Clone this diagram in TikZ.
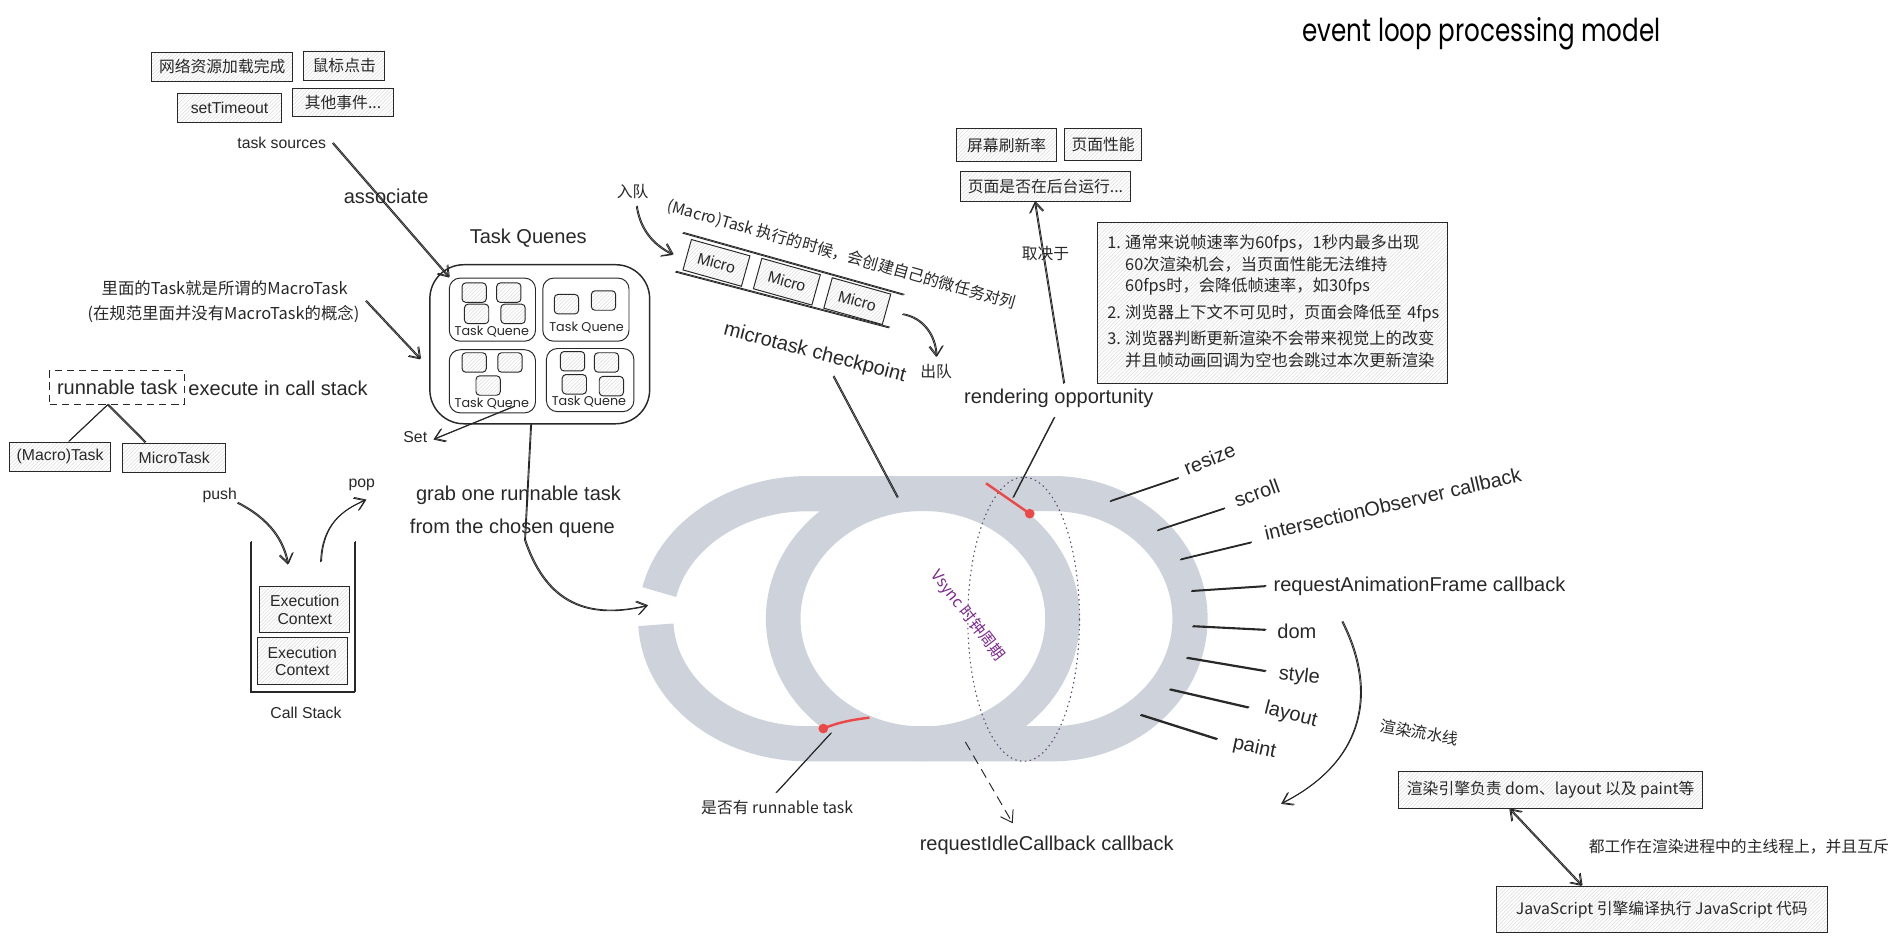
\documentclass[tikz,border=0pt]{standalone}
\usepackage{fontspec}
\usepackage{graphicx}
\setmainfont{Liberation Sans}
\newfontfamily\cjk{Noto Sans CJK SC}
\newfontfamily\hand{Poppins}
\usetikzlibrary{arrows.meta,patterns,calc}
\definecolor{ringc}{RGB}{206,211,219}
\definecolor{ink}{RGB}{40,40,40}
\definecolor{redm}{RGB}{235,72,72}
\definecolor{vs}{RGB}{125,40,145}
\definecolor{dotc}{RGB}{95,75,115}
\begin{document}
\begin{tikzpicture}[x=1pt,y=-1pt,
  every node/.style={inner sep=0pt, text=ink},
  rough/.style={postaction={draw, transform canvas={shift={(0.8pt,0.6pt)}}}},
  ln/.style={draw=ink, line width=0.75pt, rough},
  tick/.style={draw=ink, line width=1.1pt, rough},
  arr/.style={ln, -{Straight Barb[length=8pt,width=11pt]}},
  hbox/.style={draw=ink, line width=0.8pt, preaction={fill=white}, pattern=north east lines, pattern color=black!14},
  big/.style={font=\fontsize{16.5}{19}\selectfont},
  sm/.style={font=\fontsize{13}{15}\selectfont},
  cj/.style={font=\cjk\fontsize{13}{15}\selectfont},
  sq/.style={hbox, rounded corners=3pt, minimum width=20pt, minimum height=16pt},
  tq/.style={draw=ink, line width=0.8pt, rounded corners=9pt, minimum width=71pt, minimum height=52pt, fill=white},
  tql/.style={font=\hand\fontsize{10.5}{12}\selectfont}
]
\useasboundingbox (0,0) rectangle (1568,775);
\fill[white] (0,0) rectangle (1568,775);

% ---------- ring ----------
\draw[ringc, line width=29pt] (542.9,487.6) arc[start angle=192.3, end angle=270, x radius=125, y radius=103]
  -- (867,406.5) arc[start angle=-90, end angle=90, x radius=113, y radius=103]
  -- (665,612.5) arc[start angle=90, end angle=177.2, x radius=125, y radius=103];
\draw[ringc, line width=28.5pt] (760,509.5) ellipse [x radius=115, y radius=103];
\draw[dotc, line width=0.9pt, dash pattern=on 1.2pt off 2.8pt] (843,510) ellipse [x radius=46, y radius=117];
\node[font=\cjk\fontsize{13}{15}\selectfont, text=vs, rotate=-52] (vsync) at (797,507) {Vsync 时钟周期};

% ---------- title ----------
\node[font=\hand\fontsize{26}{30}\selectfont, text=black] (title) at (1220,28) {\scalebox{0.78}[1]{event loop processing model}};

% ---------- task sources ----------
\node[hbox, cj, minimum width=116pt, minimum height=24pt] (src1) at (183,55) {网络资源加载完成};
\node[hbox, cj, minimum width=67pt, minimum height=24pt] (src2) at (283.5,54) {鼠标点击};
\node[hbox, sm, minimum width=86pt, minimum height=24pt] (src3) at (189,89) {setTimeout};
\node[hbox, cj, minimum width=83pt, minimum height=23pt] (src4) at (282.5,84.5) {其他事件...};
\node[sm] (tsrc) at (232,118) {task sources};
\node[big] (assoc) at (318,162) {associate};

% ---------- task queues ----------
\node[big] (tqt) at (435,196) {Task Quenes};
\node[draw=ink, line width=1.2pt, rounded corners=28pt, minimum width=181pt, minimum height=131pt] (TQ) at (444.5,283.5) {};
\node[tq] (q1) at (405.5,255) {};
\node[tq] (q2) at (482.5,255) {};
\node[tq] (q3) at (405.5,314) {};
\node[tq, minimum width=72pt] (q4) at (486,313) {};
\node[sq] (q1a) at (390.5,241) {};
\node[sq] (q1b) at (419,241) {};
\node[sq] (q1c) at (392.5,258.5) {};
\node[sq] (q1d) at (422.5,258.5) {};
\node[sq] (q2a) at (466.5,250.5) {};
\node[sq] (q2b) at (497,247.5) {};
\node[sq] (q3a) at (390.5,298.5) {};
\node[sq] (q3b) at (420,298.5) {};
\node[sq] (q3c) at (402,317.5) {};
\node[sq] (q4a) at (471.5,297.5) {};
\node[sq] (q4b) at (499.5,298.5) {};
\node[sq] (q4c) at (473,316.5) {};
\node[sq] (q4d) at (503.5,318) {};
\node[tql] (q1l) at (405,273.5) {Task Quene};
\node[tql] (q2l) at (483,270) {Task Quene};
\node[tql] (q3l) at (405,332) {Task Quene};
\node[tql] (q4l) at (485,331) {Task Quene};
\draw[arr] ([xshift=5pt]tsrc.east) -- (q1.north west);

\node[sm] (set) at (342,360) {Set};
\coordinate (setfrom) at (423,335);
\draw[arr] (setfrom) -- ([xshift=5pt,yshift=-2pt]set.east);

% ---------- macro task note ----------
\node[font=\cjk\fontsize{13.5}{16}\selectfont] (mac1) at (185,237) {里面的Task就是所谓的MacroTask};
\node[font=\cjk\fontsize{13.5}{16}\selectfont] (mac2) at (184,259) {(在规范里面并没有MacroTask的概念)};
\coordinate (macA) at (301,248);
\coordinate (macB) at (346,296);
\draw[arr] (macA) -- (macB);

\node[big, draw=ink, dash pattern=on 6pt off 4pt, line width=0.8pt, minimum width=111pt, minimum height=28pt] (rt) at (96.5,319) {runnable task};
\node[big, anchor=west] (exe) at (155,320) {execute in call stack};
\node[hbox, sm, minimum width=83pt, minimum height=24pt] (mt) at (49.5,376) {(Macro)Task};
\node[hbox, sm, minimum width=85pt, minimum height=24pt] (mc) at (143.5,377) {MicroTask};
\draw[ln] ([xshift=-8pt]rt.south) -- ([xshift=7pt]mt.north);
\draw[ln] ([xshift=-8pt]rt.south) -- ([xshift=-24pt]mc.north);

% ---------- call stack ----------
\node[sm] (push) at (181,408) {push};
\node[sm] (pop) at (298,399) {pop};
\coordinate (pushend) at (237,465);
\coordinate (popstart) at (264,463);
\coordinate (popend) at (301,412);
\draw[arr] (push.south east) .. controls (222,428) and (233,445) .. (pushend);
\draw[arr] (popstart) .. controls (265,432) and (282,420) .. (popend);
\draw[ink, line width=0.9pt, rough] (206,446) -- (206,570) -- (292,570) -- (292,446);
\node[hbox, sm, align=center, minimum width=74pt, minimum height=38pt, font=\fontsize{13}{14.5}\selectfont] (ec1) at (251,502) {Execution\\Context};
\node[hbox, sm, align=center, minimum width=74pt, minimum height=39pt, font=\fontsize{13}{14.5}\selectfont] (ec2) at (249,544.5) {Execution\\Context};
\node[sm] (cs) at (252,587) {Call Stack};

% ---------- grab ----------
\node[big] (grab1) at (427,408) {grab one runnable task};
\node[big] (grab2) at (422,435) {from the chosen quene};
\coordinate (ringin) at (533,499);
\draw[arr] ([xshift=-7.5pt]TQ.south) -- (432,445) .. controls (448,492) and (478,512) .. (ringin);

% ---------- micro task queue ----------
\node[cj] (inq) at (521,158) {入队};
\coordinate (inqstart) at (524,170);
\coordinate (inqend) at (554,210);
\draw[arr] (inqstart) .. controls (527,190) and (538,202) .. (inqend);
\node[cj, rotate=-15.8] (mtl) at (693,210) {(Macro)Task 执行的时候，会创建自己的微任务对列};
\draw[ln] (562,192) -- (744,243);
\draw[ln] (556,224) -- (732,270);
\node[hbox, sm, rotate=-15.6, minimum width=50pt, minimum height=26pt] (m1) at (590,216.5) {Micro};
\node[hbox, sm, rotate=-15.6, minimum width=50pt, minimum height=26pt] (m2) at (648,232) {Micro};
\node[hbox, sm, rotate=-15.6, minimum width=50pt, minimum height=26pt] (m3) at (706,248) {Micro};
\node[cj] (outq) at (771,306) {出队};
\coordinate (outqstart) at (743,259);
\coordinate (outqend) at (771,294);
\draw[arr] (outqstart) .. controls (760,262) and (770,276) .. (outqend);
\node[big, rotate=-14.6] (mcp) at (671,291) {microtask checkpoint};
\coordinate (mcpstart) at (686,310);
\coordinate (mcpend) at (739,410);
\draw[ln] (mcpstart) -- (mcpend);

% ---------- rendering opportunity ----------
\node[hbox, cj, minimum width=82pt, minimum height=27pt] (b1) at (829,119.5) {屏幕刷新率};
\node[hbox, cj, minimum width=63pt, minimum height=26pt] (b2) at (908.5,119) {页面性能};
\node[hbox, cj, minimum width=140pt, minimum height=25pt] (b3) at (861,153.5) {页面是否在后台运行...};
\node[big] (ro) at (872,328) {rendering opportunity};
\node[cj] (dep) at (861,209) {取决于};
\coordinate (rotop) at (876,316);
\coordinate (robot) at (868,344);
\coordinate (roend) at (834,410);
\draw[arr] (rotop) -- ([xshift=-9pt]b3.south);
\draw[ln] (robot) -- (roend);

\node[hbox, minimum width=288pt, minimum height=133pt, text width=272pt, align=left, font=\cjk\fontsize{13.4}{17.8}\selectfont] (note) at (1048,249.5)
{\begin{tabular}{@{}l@{\hspace{3.5pt}}l@{}}
1. & 通常来说帧速率为60fps，1秒内最多出现\\
   & 60次渲染机会，当页面性能无法维持\\
   & 60fps时，会降低帧速率，如30fps\\[4pt]
2. & 浏览器上下文不可见时，页面会降低至 4fps\\[4pt]
3. & 浏览器判断更新渲染不会带来视觉上的改变\\
   & 并且帧动画回调为空也会跳过本次更新渲染
\end{tabular}};

% ---------- red markers ----------
\coordinate (redtop) at (848,423);
\coordinate (redbot) at (678,600);
\draw[redm, line width=2pt] (812,398) -- (redtop);
\fill[redm] (redtop) circle[radius=4];
\fill[redm] (redbot) circle[radius=4];
\draw[redm, line width=2pt] (redbot) .. controls (690,595) and (700,593) .. (716,591);

\node[cj] (runq) at (640,665) {是否有 runnable task};
\coordinate (runqfrom) at (684,604);
\coordinate (runqto) at (639,653);
\draw[ln] (runqfrom) -- (runqto);

\coordinate (idlefrom) at (795,611);
\coordinate (idleto) at (834,678);
\node[big] (ric) at (862,696) {requestIdleCallback callback};
\draw[ink, line width=0.8pt, dash pattern=on 8pt off 5pt, -{Straight Barb[length=9pt,width=12pt]}] (idlefrom) -- (idleto);

% ---------- right labels ----------
\node[big, rotate=22] (rs) at (996,378) {resize};
\node[big, rotate=20] (sc) at (1035,406) {scroll};
\node[big, rotate=13] (io) at (1147,415) {intersectionObserver callback};
\node[big] (raf) at (1169,483) {requestAnimationFrame callback};
\node[big] (dom) at (1068,520) {dom};
\node[big, rotate=-6] (sty) at (1070,557) {style};
\node[big, rotate=-14] (lay) at (1063,589) {layout};
\node[big, rotate=-12] (pnt) at (1033,616) {paint};
\coordinate (t1) at (914,413);
\coordinate (t2) at (953,437);
\coordinate (t3) at (972,461);
\coordinate (t4) at (981,487);
\coordinate (t5) at (982,516);
\coordinate (t6) at (977,542);
\coordinate (t7) at (963,568);
\coordinate (t8) at (939,589);
\draw[tick] (t1) -- (970,394);
\draw[tick] (t2) -- (1008,419);
\draw[tick] (t3) -- (1030,447);
\draw[tick] (t4) -- (1042,483);
\draw[tick] (t5) -- (1042,519);
\draw[tick] (t6) -- (1042,553);
\draw[tick] (t7) -- (1028,583);
\draw[tick] (t8) -- (1002,609);

\coordinate (pipetop) at (1105,512);
\coordinate (pipeend) at (1055,662);
\draw[arr] (pipetop) .. controls (1132,565) and (1128,625) .. (pipeend);
\node[cj, rotate=-10] (pipe) at (1169,603) {渲染流水线};

% ---------- engines ----------
\node[hbox, cj, minimum width=250pt, minimum height=31pt] (eng1) at (1277,650.5) {渲染引擎负责 dom、layout 以及 paint等};
\node[hbox, cj, minimum width=273pt, minimum height=38pt] (eng2) at (1368.5,749) {JavaScript 引擎编译执行 JavaScript 代码};
\node[cj] (mutex) at (1432,697) {都工作在渲染进程中的主线程上，并且互斥};
\draw[ln, {Straight Barb[length=8pt,width=11pt]}-{Straight Barb[length=8pt,width=11pt]}] ([xshift=-34pt]eng1.south) -- ([xshift=-66pt]eng2.north);
\end{tikzpicture}
\end{document}
